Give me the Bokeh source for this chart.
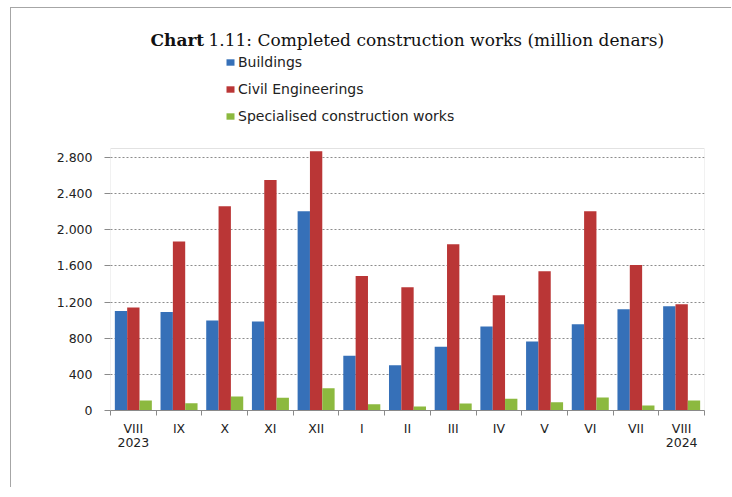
import numpy as np
from bokeh.plotting import figure
from bokeh.models import (ColumnDataSource, FixedTicker, Range1d, Legend, LegendItem,
                          Label, BoxAnnotation)
from bokeh.transform import dodge
from bokeh.embed import file_html
from bokeh.resources import INLINE

# ---- data ----
months = ["VIII 2023", "IX", "X", "XI", "XII", "I", "II", "III", "IV", "V", "VI", "VII", "VIII 2024"]
month_labels = ["VIII\n2023", "IX", "X", "XI", "XII", "I", "II", "III", "IV", "V", "VI", "VII", "VIII\n2024"]
buildings = [1100, 1090, 995, 985, 2205, 605, 500, 705, 930, 765, 955, 1120, 1155]
civil = [1140, 1870, 2260, 2550, 2870, 1490, 1365, 1840, 1275, 1540, 2205, 1610, 1175]
specialised = [110, 80, 155, 140, 245, 68, 45, 78, 130, 90, 145, 55, 110]
series_names = ["Buildings", "Civil Engineerings", "Specialised construction works"]
y_ticks = [0, 400, 800, 1200, 1600, 2000, 2400, 2800]
y_tick_labels = ["0", "400", "800", "1.200", "1.600", "2.000", "2.400", "2.800"]
y_max = 2900
title_bold = "Chart"
title_rest = "1.11: Completed construction works (million denars)"

colors = ["#3670b8", "#ba3636", "#8cb93f"]

# ---- layout (pixels) ----
W, H = 721, 480
MB_LEFT, MB_RIGHT, MB_TOP, MB_BOTTOM = 99, 28, 4, 78
frame_h = H - MB_TOP - MB_BOTTOM
plot_h = 262                      # height of the plotting box inside the frame
y_view_top = y_max * frame_h / plot_h

n = len(months)
xpos = np.arange(n) + 0.5
src = ColumnDataSource(dict(x=xpos, b=buildings, c=civil, s=specialised))

p = figure(width=W, height=H, output_backend="svg", toolbar_location=None,
           x_range=Range1d(0, n), y_range=Range1d(0, y_view_top),
           min_border_left=MB_LEFT, min_border_right=MB_RIGHT,
           min_border_top=MB_TOP, min_border_bottom=MB_BOTTOM)
p.styles = {"border-left": "1px solid #a6a6a6", "border-top": "1px solid #a6a6a6",
            "margin-left": "10px", "margin-top": "7px"}

w = 0.27
r1 = p.vbar(x=dodge("x", -w, range=p.x_range), top="b", width=w, source=src,
            fill_color=colors[0], line_color=None)
r2 = p.vbar(x=dodge("x", 0, range=p.x_range), top="c", width=w, source=src,
            fill_color=colors[1], line_color=None)
r3 = p.vbar(x=dodge("x", w, range=p.x_range), top="s", width=w, source=src,
            fill_color=colors[2], line_color=None)

# plotting box outline
p.add_layout(BoxAnnotation(left=0, right=n, bottom=0, top=y_max, fill_alpha=0,
                           line_color="#a0a0a0", line_width=1, level="underlay"))

# axes
p.xaxis.ticker = FixedTicker(ticks=list(xpos), minor_ticks=list(range(n + 1)))
p.xaxis.major_label_overrides = {float(x): lab for x, lab in zip(xpos, month_labels)}
p.xaxis.major_tick_line_color = None
p.xaxis.major_tick_out = 0
p.xaxis.major_tick_in = 0
p.xaxis.minor_tick_line_color = "#8a8a8a"
p.xaxis.minor_tick_out = 5
p.xaxis.minor_tick_in = 0
p.xaxis.axis_line_color = "#8a8a8a"
p.xaxis.major_label_standoff = 5
p.xaxis.major_label_text_font = "DejaVu Sans"
p.xaxis.major_label_text_font_size = "12.5px"
p.xaxis.major_label_text_line_height = 0.95
p.xaxis.major_label_text_color = "#222222"

p.yaxis.ticker = FixedTicker(ticks=y_ticks)
p.yaxis.major_label_overrides = {t: lab for t, lab in zip(y_ticks, y_tick_labels)}
p.yaxis.minor_tick_line_color = None
p.yaxis.major_tick_out = 6
p.yaxis.major_tick_in = 0
p.yaxis.major_tick_line_color = "#8a8a8a"
p.yaxis.axis_line_color = None
p.yaxis.major_label_standoff = 12
p.yaxis.major_label_text_font = "DejaVu Sans"
p.yaxis.major_label_text_font_size = "12.5px"
p.yaxis.major_label_text_color = "#222222"

p.xgrid.grid_line_color = None
p.ygrid.grid_line_color = "#8c8c8c"
p.ygrid.grid_line_dash = "2 2"
p.outline_line_color = None
p.background_fill_color = "white"
p.border_fill_color = "white"

# title (screen units, relative to the frame's bottom-left)
p.add_layout(Label(x=40, y=371, x_units="screen", y_units="screen", text=title_bold,
                   text_font="DejaVu Serif", text_font_size="17px", text_font_style="bold",
                   text_color="#111111", text_baseline="alphabetic"))
p.add_layout(Label(x=98, y=371, x_units="screen", y_units="screen", text=title_rest,
                   text_font="DejaVu Serif", text_font_size="17px",
                   text_color="#111111", text_baseline="alphabetic"))

legend = Legend(items=[LegendItem(label=series_names[0], renderers=[r1]),
                       LegendItem(label=series_names[1], renderers=[r2]),
                       LegendItem(label=series_names[2], renderers=[r3])],
                location=(115, 284), orientation="vertical",
                glyph_width=10, glyph_height=8, label_height=20, spacing=7,
                padding=0, margin=0, border_line_color=None, background_fill_alpha=0,
                label_text_font="DejaVu Sans", label_text_font_size="14px",
                label_text_color="#222222", label_standoff=3)
p.add_layout(legend, "center")

open("out.html", "w").write(file_html(p, INLINE))
